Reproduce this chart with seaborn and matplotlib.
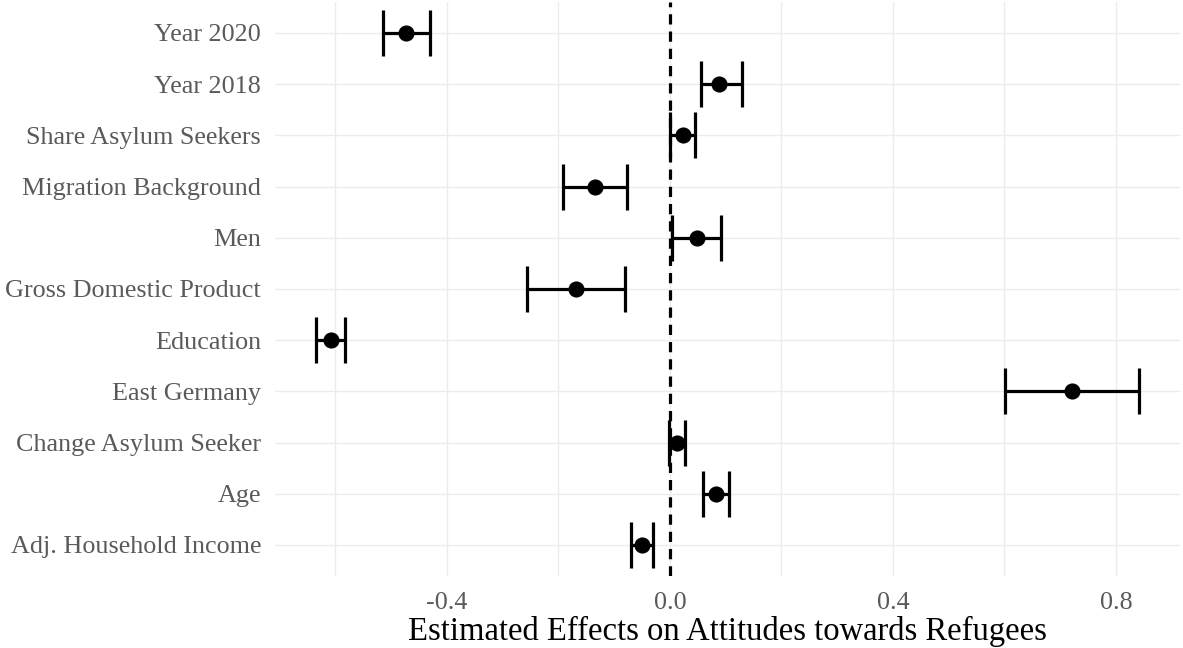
import matplotlib
matplotlib.use("Agg")
import matplotlib.pyplot as plt
import seaborn as sns
import numpy as np
import pandas as pd

terms = ["Year 2020", "Year 2018", "Share Asylum Seekers", "Migration Background",
         "Men", "Gross Domestic Product", "Education", "East Germany",
         "Change Asylum Seeker", "Age", "Adj. Household Income"]
estimate = [-0.474, 0.089, 0.023, -0.134, 0.048, -0.168, -0.608, 0.721, 0.013, 0.082, -0.050]
conf_low = [-0.514, 0.055, 0.000, -0.191, 0.004, -0.256, -0.634, 0.601, -0.002, 0.059, -0.070]
conf_high = [-0.431, 0.129, 0.045, -0.077, 0.091, -0.081, -0.582, 0.841, 0.027, 0.106, -0.030]
x_ticks = [-0.4, 0.0, 0.4, 0.8]
x_tick_labels = ["-0.4", "0.0", "0.4", "0.8"]
x_label = "Estimated Effects on Attitudes towards Refugees"

df = pd.DataFrame({"term": terms, "estimate": estimate,
                   "conf_low": conf_low, "conf_high": conf_high})
df["pos"] = np.arange(len(df))

sns.set_theme(style="whitegrid")
plt.rcParams["font.family"] = ["Liberation Serif", "DejaVu Serif"]

fig = plt.figure(figsize=(11.83, 6.48), dpi=100)
ax = fig.add_axes([0.2325, 0.1116, 0.765, 0.885])

grid_c = "#ececec"
ax.axvline(0, color="black", linestyle=(0, (3.2, 2.2)), linewidth=2.3, zorder=2)

ax.errorbar(df["estimate"], df["pos"],
            xerr=[df["estimate"] - df["conf_low"], df["conf_high"] - df["estimate"]],
            fmt="none", ecolor="black", elinewidth=2.3, capsize=16.5, capthick=2.3, zorder=3)
sns.scatterplot(data=df, x="estimate", y="pos", color="black", s=135,
                edgecolor="black", linewidth=0, ax=ax, zorder=4, legend=False)

ax.set_ylim(len(df) - 1 + 0.6, -0.6)
ax.set_xlim(-0.708, 0.915)
ax.set_yticks(df["pos"])
ax.set_yticklabels(df["term"])
ax.set_xticks(x_ticks)
ax.set_xticklabels(x_tick_labels)
ax.set_xticks([-0.6, -0.2, 0.2, 0.6], minor=True)

ax.grid(True, which="major", color=grid_c, linewidth=1.0)
ax.grid(True, which="minor", axis="x", color=grid_c, linewidth=1.0)
ax.set_axisbelow(True)
for s in ax.spines.values():
    s.set_visible(False)
ax.set_facecolor("white")

ax.tick_params(axis="y", which="both", length=0, pad=10, labelsize=18.8, labelcolor="#5a5a5a")
ax.tick_params(axis="x", which="both", length=0, pad=12, labelsize=18.8, labelcolor="#5a5a5a")
ax.set_xlabel(x_label, fontsize=23.5, color="black", labelpad=1)
ax.set_ylabel("")

fig.savefig("out.png", dpi=100, facecolor="white")
